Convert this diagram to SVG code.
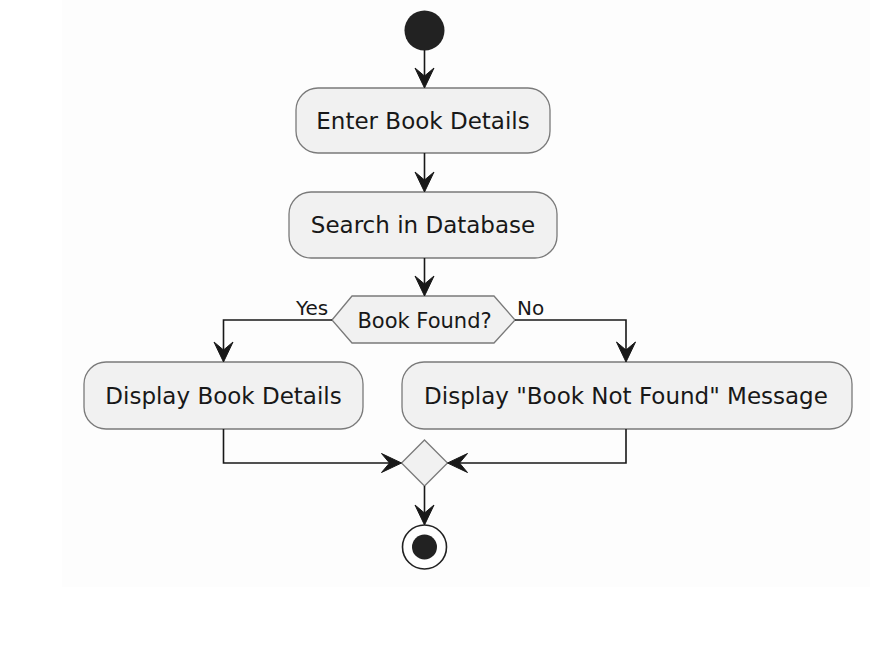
<svg xmlns="http://www.w3.org/2000/svg" width="892" height="655" viewBox="0 0 892 655">
<style>
.box{fill:#F1F1F1;stroke:#7a7a7a;stroke-width:1.3}
.lbl{font-family:"DejaVu Sans",sans-serif;font-size:23px;fill:#181818;text-anchor:middle}
.small{font-family:"DejaVu Sans",sans-serif;font-size:20px;fill:#181818}
.ln{fill:none;stroke:#181818;stroke-width:1.6}
.ah{fill:#181818;stroke:#181818;stroke-width:1}
</style>
<defs>
<path id="arrowDown" class="ah" d="M0,0 L-9.5,-20 L0,-12 L9.5,-20 Z"/>
</defs>
<rect x="0" y="0" width="892" height="655" fill="#ffffff"/>
<rect x="62" y="0" width="808" height="587" fill="#fdfdfd"/>
<g id="start"><circle cx="424.5" cy="30.5" r="20" fill="#222222"/></g>
<g id="enter"><rect class="box" x="296" y="88" width="254" height="65" rx="22"/><text class="lbl" x="423" y="129">Enter Book Details</text></g>
<g id="search"><rect class="box" x="289" y="192" width="268" height="66" rx="22"/><text class="lbl" x="423" y="233">Search in Database</text></g>
<g id="decision"><polygon class="box" points="332,320 352,296 494,296 515,320 494,343 352,343"/><text x="424.5" y="328" font-family="DejaVu Sans, sans-serif" font-size="21" fill="#181818" text-anchor="middle">Book Found?</text></g>
<g id="displayDetails"><rect class="box" x="84" y="362" width="279" height="67" rx="22"/><text class="lbl" x="223.5" y="404">Display Book Details</text></g>
<g id="displayNotFound"><rect class="box" x="402" y="362" width="450" height="67" rx="22"/><text class="lbl" x="626" y="404">Display "Book Not Found" Message</text></g>
<g id="merge"><polygon class="box" points="424.5,440 447.5,463 424.5,486 401.5,463"/></g>
<g id="end"><circle cx="424.5" cy="547" r="22" fill="#ffffff" stroke="#222222" stroke-width="1.6"/><circle cx="424.5" cy="547" r="12.5" fill="#222222"/></g>
<g id="connectors">
<line class="ln" x1="424.5" y1="50" x2="424.5" y2="84"/>
<use href="#arrowDown" x="424.5" y="88"/>
<line class="ln" x1="424.5" y1="153" x2="424.5" y2="188"/>
<use href="#arrowDown" x="424.5" y="192"/>
<line class="ln" x1="424.5" y1="258" x2="424.5" y2="292"/>
<use href="#arrowDown" x="424.5" y="296"/>
<polyline class="ln" points="332,320 223.5,320 223.5,358"/>
<use href="#arrowDown" x="223.5" y="362"/>
<polyline class="ln" points="515,320 626,320 626,358"/>
<use href="#arrowDown" x="626" y="362"/>
<text class="small" x="296" y="315">Yes</text>
<text class="small" x="517" y="315">No</text>
<polyline class="ln" points="223.5,429 223.5,463 397.5,463"/>
<path class="ah" d="M401.5,463 L381.5,453.5 L389.5,463 L381.5,472.5 Z"/>
<polyline class="ln" points="626,429 626,463 451.5,463"/>
<path class="ah" d="M447.5,463 L467.5,453.5 L459.5,463 L467.5,472.5 Z"/>
<line class="ln" x1="424.5" y1="486" x2="424.5" y2="521"/>
<use href="#arrowDown" x="424.5" y="525"/>
</g>
</svg>
